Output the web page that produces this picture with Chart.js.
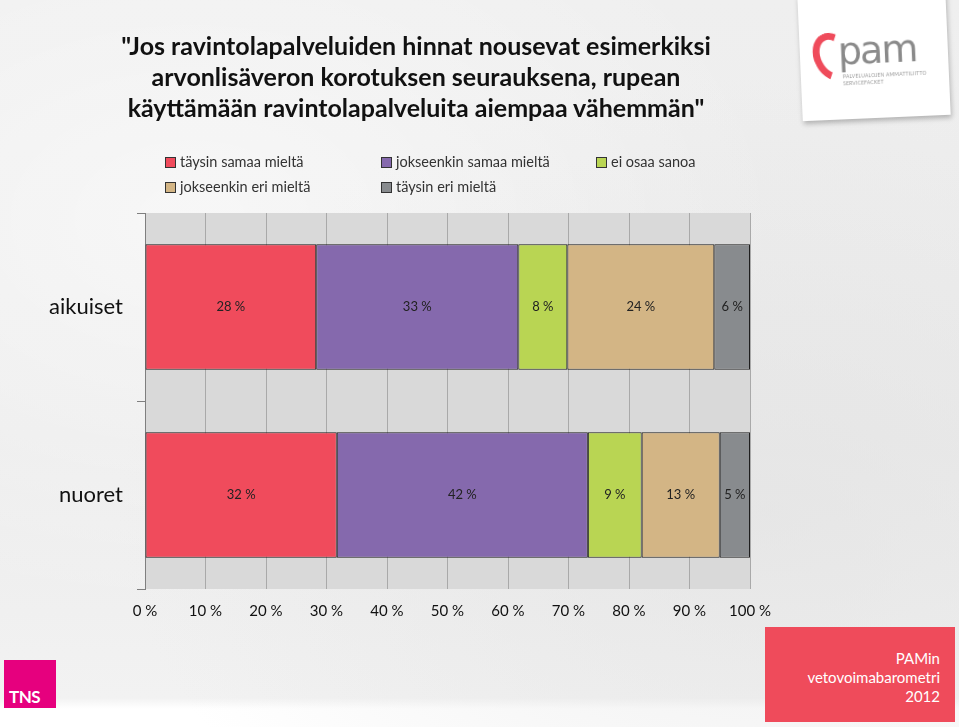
<!DOCTYPE html>
<html lang="fi">
<head>
<meta charset="utf-8">
<title>PAMin vetovoimabarometri 2012</title>
<script src="https://cdn.jsdelivr.net/npm/chart.js@4/dist/chart.umd.min.js"></script>
<style>
  html, body {
    margin: 0;
    padding: 0;
  }
  body {
    width: 959px;
    height: 727px;
    position: relative;
    overflow: hidden;
    font-family: Lato, "Open Sans", sans-serif;
    background:
      radial-gradient(ellipse at 20% 30%, rgba(255,255,255,0.55), rgba(255,255,255,0) 55%),
      radial-gradient(ellipse at 80% 70%, rgba(225,225,225,0.6), rgba(225,225,225,0) 60%),
      linear-gradient(180deg, #efefef 0%, #ececec 60%, #f2f2f2 96%, #ffffff 97.5%);
  }
  #title {
    position: absolute;
    left: 40px;
    width: 752px;
    top: 30px;
    text-align: center;
    font-weight: bold;
    font-size: 25px;
    line-height: 31px;
    color: #111;
  }
  #legend {
    position: absolute;
    left: 165px;
    top: 152px;
    width: 600px;
    font-size: 14.5px;
    color: #333;
  }
  .lg-item {
    position: absolute;
    white-space: nowrap;
    line-height: 20px;
  }
  .lg-box {
    display: inline-block;
    width: 9px;
    height: 9px;
    border: 1px solid #333;
    margin-right: 4px;
    vertical-align: -1px;
  }
  #chart-wrap {
    position: absolute;
    left: 0;
    top: 0;
    width: 959px;
    height: 727px;
  }
  #pam {
    position: absolute;
    left: 800px;
    top: -8px;
    width: 148px;
    height: 126px;
    background: #fff;
    transform: rotate(-2.5deg);
    box-shadow: 1px 3px 5px rgba(0,0,0,0.25);
  }
  #pam .arc {
    position: absolute;
    left: 14px;
    top: 38px;
    width: 24px;
    height: 36px;
    border: 7px solid #ef4b5b;
    border-right-color: transparent;
    border-bottom-color: transparent;
    border-radius: 50%;
    transform: rotate(-25deg);
  }
  #pam .word {
    position: absolute;
    left: 38px;
    top: 36px;
    font-family: "DejaVu Sans", sans-serif;
    font-size: 38px;
    letter-spacing: -2px;
    color: #8a8a8a;
  }
  #pam .small {
    position: absolute;
    left: 42px;
    top: 80px;
    font-size: 5px;
    line-height: 7px;
    color: #999;
    letter-spacing: 0.2px;
  }
  #tns {
    position: absolute;
    left: 4px;
    top: 660px;
    width: 52px;
    height: 48px;
    background: #e6007e;
  }
  #tns span {
    position: absolute;
    left: 5px;
    bottom: 1px;
    color: #fff;
    font-weight: bold;
    font-size: 17px;
    letter-spacing: -0.5px;
  }
  #brand {
    position: absolute;
    left: 765px;
    top: 627px;
    width: 190px;
    height: 95px;
    background: #ef4b5b;
    color: #fff;
    font-size: 15px;
    line-height: 19px;
    text-align: right;
    box-sizing: border-box;
    padding: 22px 15px 0 0;
  }
</style>
</head>
<body>
<div id="chart-wrap"><canvas id="chart" width="959" height="727"></canvas></div>

<div id="title">"Jos ravintolapalveluiden hinnat nousevat esimerkiksi<br>arvonlisäveron korotuksen seurauksena, rupean<br>käyttämään ravintolapalveluita aiempaa vähemmän"</div>

<div id="legend"></div>

<div id="pam">
  <div class="arc"></div>
  <div class="word">pam</div>
  <div class="small">PALVELUALOJEN AMMATTILIITTO<br>SERVICEFACKET</div>
</div>

<div id="tns"><span>TNS</span></div>

<div id="brand">PAMin<br>vetovoimabarometri<br>2012</div>

<script>
(function () {
  "use strict";

  var categories = ["aikuiset", "nuoret"];

  var seriesNames = [
    "täysin samaa mieltä",
    "jokseenkin samaa mieltä",
    "ei osaa sanoa",
    "jokseenkin eri mieltä",
    "täysin eri mieltä",
  ];

  // unrounded shares (labels show them rounded)
  var taysinSamaa = [28.3, 31.7];
  var jokseenkinSamaa = [33.4, 41.5];
  var eiOsaa = [8.1, 8.9];
  var jokseenkinEri = [24.3, 12.9];
  var taysinEri = [5.9, 5.0];

  var xTicks = [0, 10, 20, 30, 40, 50, 60, 70, 80, 90, 100];

  var colors = ["#f04b5c", "#8569ad", "#b9d553", "#d3b585", "#888b8e"];

  // legend: column x offsets and row, in Excel order
  var legendSlots = [
    { x: 0, row: 0 },
    { x: 216, row: 0 },
    { x: 431, row: 0 },
    { x: 0, row: 1 },
    { x: 216, row: 1 },
  ];

  var seriesValues = [taysinSamaa, jokseenkinSamaa, eiOsaa, jokseenkinEri, taysinEri];

  var datasets = seriesNames.map(function (name, i) {
    return {
      label: name,
      data: seriesValues[i],
      backgroundColor: colors[i],
      borderColor: "#1e1e1e",
      borderWidth: 1,
      borderSkipped: false,
      barPercentage: 0.667,
      categoryPercentage: 1,
    };
  });

  // grey plot background
  var plotBackground = {
    id: "plotBackground",
    beforeDraw: function (chart) {
      var a = chart.chartArea;
      var ctx = chart.ctx;
      ctx.save();
      ctx.fillStyle = "#d9d9d9";
      ctx.fillRect(a.left, a.top, a.right - a.left, a.bottom - a.top);
      ctx.restore();
    },
  };

  // "28 %" labels in the middle of each segment
  var segmentLabels = {
    id: "segmentLabels",
    afterDatasetsDraw: function (chart) {
      var ctx = chart.ctx;
      ctx.save();
      ctx.font = "13px Lato, 'Open Sans', sans-serif";
      ctx.fillStyle = "#222";
      ctx.textAlign = "center";
      ctx.textBaseline = "middle";
      chart.data.datasets.forEach(function (ds, di) {
        var meta = chart.getDatasetMeta(di);
        meta.data.forEach(function (bar, i) {
          var p = bar.getProps(["x", "y", "base"], true);
          ctx.fillText(Math.round(ds.data[i]) + " %", (p.x + p.base) / 2, p.y);
        });
      });
      ctx.restore();
    },
  };

  var chart = new Chart(document.getElementById("chart"), {
    type: "bar",
    data: { labels: categories, datasets: datasets },
    plugins: [plotBackground, segmentLabels],
    options: {
      indexAxis: "y",
      responsive: false,
      animation: false,
      layout: { padding: { top: 213, right: 209, left: 0, bottom: 0 } },
      plugins: {
        legend: { display: false },
        tooltip: { enabled: false },
        title: { display: false },
      },
      scales: {
        x: {
          stacked: true,
          min: 0,
          max: 100,
          afterBuildTicks: function (scale) {
            scale.ticks = xTicks.map(function (v) {
              return { value: v };
            });
          },
          afterFit: function (scale) {
            scale.height = 138;
          },
          ticks: {
            color: "#111",
            font: { family: "Lato, 'Open Sans', sans-serif", size: 15 },
            padding: 13,
            maxRotation: 0,
            callback: function (v) {
              return v + " %";
            },
          },
          grid: {
            color: "#a9a9a9",
            lineWidth: 1,
            drawTicks: false,
          },
          border: { display: false },
        },
        y: {
          stacked: true,
          afterFit: function (scale) {
            scale.width = 145;
          },
          ticks: {
            color: "#111",
            font: { family: "Lato, 'Open Sans', sans-serif", size: 22 },
            padding: 14,
          },
          grid: {
            offset: true,
            drawOnChartArea: false,
            drawTicks: true,
            tickLength: 8,
            color: "#7f7f7f",
          },
          border: { display: true, color: "#7f7f7f", width: 1 },
        },
      },
    },
  });

  // HTML legend built from the chart's datasets
  var legend = document.getElementById("legend");
  chart.data.datasets.forEach(function (ds, i) {
    var slot = legendSlots[i];
    var item = document.createElement("div");
    item.className = "lg-item";
    item.style.left = slot.x + "px";
    item.style.top = slot.row * 25 + "px";
    var box = document.createElement("span");
    box.className = "lg-box";
    box.style.background = ds.backgroundColor;
    item.appendChild(box);
    item.appendChild(document.createTextNode(ds.label));
    legend.appendChild(item);
  });
})();
</script>
</body>
</html>
